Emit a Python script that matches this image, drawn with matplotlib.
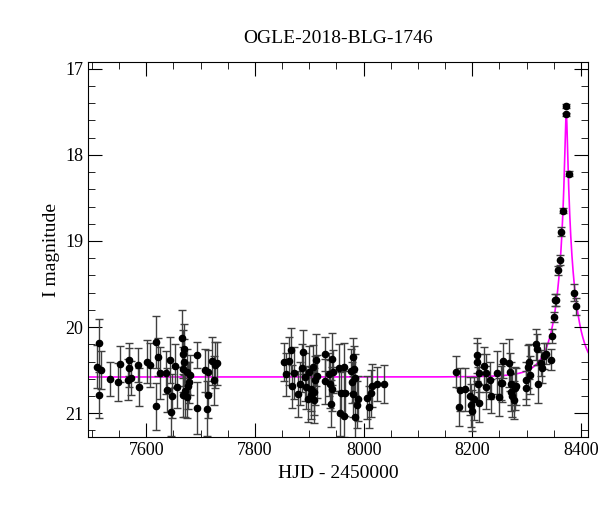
import numpy as np
import matplotlib
matplotlib.use("Agg")
import matplotlib.pyplot as plt
from matplotlib.ticker import MultipleLocator

plt.rcParams["font.family"] = "Liberation Serif"

TITLE = "OGLE-2018-BLG-1746"

# season 1
t1 = [7512, 7509, 7516, 7512, 7534, 7547, 7551, 7566, 7568, 7569, 7571, 7584, 7586,
      7601, 7607, 7617, 7618, 7621, 7626, 7637, 7638, 7644, 7645, 7647, 7652, 7656,
      7666, 7667, 7667, 7668, 7669, 7670, 7672, 7674, 7675, 7677, 7678, 7680, 7693,
      7694, 7708, 7712, 7713, 7713, 7721, 7724, 7727, 7731]
m1 = [20.19, 20.46, 20.50, 20.79, 20.60, 20.64, 20.43, 20.61, 20.47, 20.38, 20.59, 20.44, 20.70,
      20.40, 20.44, 20.17, 20.92, 20.35, 20.53, 20.53, 20.73, 20.38, 20.99, 20.80, 20.45, 20.70,
      20.13, 20.31, 20.49, 20.79, 20.26, 20.41, 20.74, 20.52, 20.81, 20.68, 20.64, 20.56, 20.32,
      20.94, 20.50, 20.95, 20.79, 20.52, 20.39, 20.62, 20.44, 20.42]
e1 = [0.28, 0.25, 0.22, 0.27, 0.20, 0.22, 0.21, 0.24, 0.23, 0.19, 0.20, 0.20, 0.22,
      0.25, 0.26, 0.30, 0.27, 0.22, 0.30, 0.25, 0.26, 0.27, 0.28, 0.26, 0.25, 0.24,
      0.33, 0.28, 0.26, 0.25, 0.30, 0.27, 0.30, 0.26, 0.25, 0.27, 0.24, 0.23, 0.15,
      0.30, 0.25, 0.32, 0.27, 0.25, 0.28, 0.28, 0.27, 0.25]

# season 2
t2 = [7854, 7857, 7862, 7866, 7868, 7872, 7880, 7883, 7886, 7889, 7892, 7894, 7897,
      7900, 7903, 7904, 7906, 7908, 7909, 7911, 7912, 7914, 7928, 7929, 7936, 7938,
      7940, 7941, 7942, 7944, 7955, 7956, 7958, 7963, 7964, 7966, 7977, 7978, 7980,
      7981, 7983, 7984, 7985, 7987, 7990, 8007, 8010, 8013, 8016, 8024, 8037]
m2 = [20.41, 20.55, 20.39, 20.27, 20.69, 20.53, 20.78, 20.66, 20.48, 20.29, 20.58, 20.70, 20.83,
      20.52, 20.72, 20.79, 20.46, 20.75, 20.85, 20.62, 20.38, 20.57, 20.31, 20.63, 20.55, 20.66,
      20.89, 20.37, 20.72, 20.52, 20.47, 21.00, 20.77, 21.03, 20.46, 20.77, 20.51, 20.64, 20.35,
      20.78, 20.49, 20.59, 21.04, 20.90, 20.83, 20.82, 20.93, 20.77, 20.68, 20.66, 20.66]
e2 = [0.22, 0.25, 0.28, 0.26, 0.25, 0.30, 0.27, 0.25, 0.28, 0.26, 0.28, 0.25, 0.27,
      0.30, 0.26, 0.28, 0.25, 0.27, 0.26, 0.28, 0.30, 0.25, 0.20, 0.26, 0.25, 0.28,
      0.27, 0.30, 0.26, 0.25, 0.27, 0.26, 0.25, 0.25, 0.28, 0.26, 0.26, 0.24, 0.22,
      0.26, 0.27, 0.28, 0.25, 0.27, 0.26, 0.25, 0.24, 0.27, 0.25, 0.20, 0.22]

# season 3
t3 = [8170, 8175, 8178, 8187, 8195, 8198, 8200, 8203, 8208, 8209, 8210, 8212, 8212,
      8222, 8225, 8226, 8232, 8235, 8245, 8249, 8252, 8255, 8256, 8268, 8269, 8271,
      8272, 8274, 8276, 8278, 8280, 8298, 8299, 8302, 8304, 8307, 8318, 8319, 8321,
      8326, 8329, 8332, 8335, 8344, 8347, 8350, 8353, 8354, 8358, 8362, 8364, 8367,
      8372, 8373, 8378, 8388, 8391]
m3 = [20.52, 20.93, 20.73, 20.72, 20.80, 20.91, 20.97, 20.83, 20.33, 20.41, 20.66, 20.53, 20.88,
      20.45, 20.70, 20.53, 20.62, 20.80, 20.53, 20.81, 20.65, 20.65, 20.39, 20.42, 20.52, 20.66,
      20.75, 20.80, 20.85, 20.71, 20.69, 20.71, 20.62, 20.46, 20.40, 20.56, 20.20, 20.26, 20.66,
      20.42, 20.47, 20.34, 20.31, 20.38, 20.10, 19.88, 19.69, 19.69, 19.34, 19.22, 18.89, 18.65,
      17.53, 17.43, 18.22, 19.60, 19.76]
e3 = [0.18, 0.22, 0.25, 0.25, 0.22, 0.25, 0.24, 0.25, 0.20, 0.22, 0.20, 0.22, 0.22,
      0.22, 0.25, 0.22, 0.22, 0.20, 0.25, 0.22, 0.20, 0.22, 0.20, 0.28, 0.22, 0.25,
      0.22, 0.25, 0.22, 0.25, 0.22, 0.20, 0.22, 0.25, 0.20, 0.22, 0.18, 0.18, 0.22,
      0.15, 0.18, 0.15, 0.12, 0.12, 0.08, 0.06, 0.07, 0.07, 0.05, 0.06, 0.05, 0.03,
      0.02, 0.02, 0.03, 0.10, 0.10]

# point-lens model
T0, TE, U0, BASE = 8373.0, 38.0, 0.060, 20.58

t_all = np.array(t1 + t2 + t3)
m_all = np.array(m1 + m2 + m3)
e_all = np.array(e1 + e2 + e3)

fig = plt.figure(figsize=(6, 5.12), dpi=100)
ax = fig.add_axes([0.147, 0.146, 0.833, 0.733])

tm = np.linspace(7490, 8420, 3000)
u = np.sqrt(U0 ** 2 + ((tm - T0) / TE) ** 2)
amp = (u ** 2 + 2) / (u * np.sqrt(u ** 2 + 4))
ax.plot(tm, BASE - 2.5 * np.log10(amp), color="#ff00ff", lw=1.2, zorder=1)

ax.errorbar(t_all, m_all, yerr=e_all, fmt="o", color="black", ecolor="0.25",
            ms=4.5, elinewidth=1.0, capsize=3, capthick=1.0, zorder=2)

ax.set_xlim(7493, 8413)
ax.set_ylim(21.28, 16.92)
ax.xaxis.set_major_locator(MultipleLocator(200))
ax.xaxis.set_minor_locator(MultipleLocator(50))
ax.yaxis.set_major_locator(MultipleLocator(1))
ax.yaxis.set_minor_locator(MultipleLocator(0.2))
ax.tick_params(which="both", direction="in", top=True, right=True, labelsize=13)
ax.tick_params(which="major", length=10)
ax.tick_params(which="minor", length=5)

ax.set_xlabel("HJD - 2450000", fontsize=14)
ax.set_ylabel("I magnitude", fontsize=14)
ax.set_title(TITLE, fontsize=14, pad=14)

fig.savefig("out.png")
